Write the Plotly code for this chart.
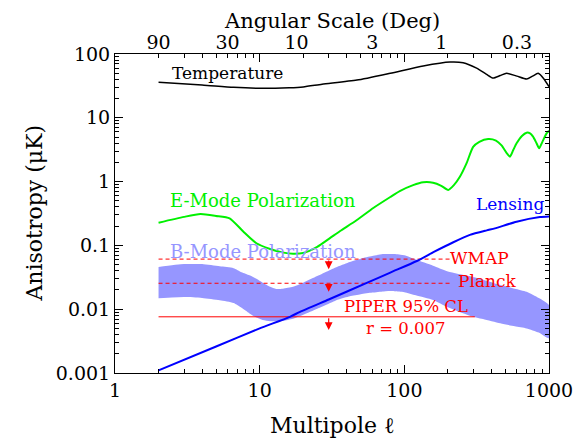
import numpy as np
import plotly.graph_objects as go

# ---------------- data ----------------
ell_T = [2, 4, 6.6, 10, 16, 20, 27, 47, 80, 135, 207, 255, 316, 370, 410, 460, 509, 600, 700, 770, 842, 920, 1000]
temp = [36, 32.7, 30, 29, 29.6, 30.5, 33.5, 39, 50, 65, 75, 73, 60, 48, 42, 46, 50, 45, 40.5, 45, 49.8, 41, 30.7]

ell_E = [2, 3, 3.9, 5, 6.2, 7.7, 9.5, 11.8, 14.6, 17, 20, 25, 30.6, 36, 47, 61, 80, 93, 115, 135, 158, 180,
         201, 220, 242, 269, 299, 330, 380, 430, 470, 510, 537, 565, 597, 650, 700, 740, 776, 820, 855, 900, 962, 1000]
EE = [0.227, 0.28, 0.31, 0.29, 0.266, 0.165, 0.108, 0.088, 0.077, 0.074, 0.076, 0.095, 0.13, 0.168, 0.25, 0.386,
      0.574, 0.71, 0.88, 0.975, 0.96, 0.86, 0.74, 0.88, 1.19, 1.93, 3.5, 4.2, 4.65, 4.4, 3.7, 2.8, 2.46, 3.1,
      3.98, 5.2, 5.84, 5.7, 5.06, 4.0, 3.33, 4.2, 5.7, 6.27]

ell_L = [2, 5, 10, 16.2, 19, 30, 55, 80, 122, 160, 218, 284, 371, 423, 597, 865, 1000]
LL = [0.0011, 0.0026, 0.005, 0.0076, 0.0091, 0.0142, 0.0258, 0.0375, 0.057, 0.079, 0.112, 0.146, 0.172, 0.185,
      0.235, 0.278, 0.285]

ell_B = [2, 3, 4, 5.3, 6.6, 7.5, 8.5, 9.5, 10.5, 11.8, 13, 14.5, 17, 20, 25, 30, 35, 42, 50, 60, 72, 85, 100,
         120, 158, 200, 280, 350, 460, 580, 700, 850, 1000]
B_up = [0.046, 0.051, 0.051, 0.047, 0.044, 0.038, 0.034, 0.030, 0.026, 0.0225, 0.0208, 0.021, 0.0225, 0.026,
        0.033, 0.040, 0.047, 0.055, 0.062, 0.068, 0.073, 0.0735, 0.070, 0.060, 0.048, 0.039, 0.033, 0.029, 0.024,
        0.021, 0.0188, 0.015, 0.0116]
B_lo = [0.0148, 0.0155, 0.0150, 0.0138, 0.0125, 0.0105, 0.0086, 0.0074, 0.0068, 0.0065, 0.0065, 0.0066, 0.0071,
        0.0082, 0.0102, 0.0122, 0.0142, 0.016, 0.0172, 0.0182, 0.019, 0.0192, 0.0185, 0.0165, 0.0139, 0.0107,
        0.0080, 0.0070, 0.0060, 0.0054, 0.0050, 0.0043, 0.0035]

# limits: name, value, line end multipole, arrow tip value
lim_names = ["WMAP", "Planck", "PIPER"]
lim_vals = [0.061, 0.0255, 0.0076]
lim_l0 = [2, 2, 2]
lim_l1 = [207, 207, 307]
arrow_l = 30
arrow_tips = [0.0424, 0.0188, 0.0047]

x_ticks = [1, 10, 100, 1000]
x_ticktext = ["1", "10", "100", "1000"]
y_ticks = [0.001, 0.01, 0.1, 1, 10, 100]
y_ticktext = ["0.001", "0.01", "0.1", "1", "10", "100"]
ang_deg = [90, 30, 10, 3, 1, 0.3]
ang_text = ["90", "30", "10", "3", "1", "0.3"]

FONT = "DejaVu Serif"
RED = "#ff0000"
GREEN = "#00f000"

fig = go.Figure()

# B-mode band
fig.add_trace(go.Scatter(x=ell_B + ell_B[::-1], y=B_up + B_lo[::-1], fill="toself",
                         fillcolor="rgb(150,150,255)", line=dict(width=0, shape="spline", smoothing=0.6),
                         mode="lines", hoverinfo="skip"))

# limit lines
for i, name in enumerate(lim_names):
    fig.add_trace(go.Scatter(x=[lim_l0[i], lim_l1[i]], y=[lim_vals[i], lim_vals[i]], mode="lines",
                             line=dict(color=RED, width=1, dash="solid" if name == "PIPER" else "4px,3px"),
                             hoverinfo="skip"))

fig.add_trace(go.Scatter(x=ell_T, y=temp, mode="lines",
                         line=dict(color="black", width=1.5, shape="spline", smoothing=0.6)))
fig.add_trace(go.Scatter(x=ell_E, y=EE, mode="lines",
                         line=dict(color=GREEN, width=2, shape="spline", smoothing=0.6)))
fig.add_trace(go.Scatter(x=ell_L, y=LL, mode="lines",
                         line=dict(color="#0000ff", width=2, shape="spline", smoothing=0.6)))

# dummy for top axis
fig.add_trace(go.Scatter(x=[1, 1000], y=[1, 1], xaxis="x2", mode="lines", line=dict(width=0),
                         opacity=0, hoverinfo="skip"))

# arrows
for tail, tip in zip(lim_vals, arrow_tips):
    fig.add_annotation(x=np.log10(arrow_l), y=np.log10(tip), ax=np.log10(arrow_l), ay=np.log10(tail),
                       xref="x", yref="y", axref="x", ayref="y", text="", showarrow=True,
                       arrowhead=2, arrowsize=1.3, arrowwidth=1.2, arrowcolor=RED, standoff=0,
                       startstandoff=0)

# text labels
labels = [
    ("Temperature", 6.0, 49.8, "black", 17),
    ("E-Mode Polarization", 10.5, 0.497, GREEN, 18),
    ("B-Mode Polarization", 10.5, 0.0817, "rgb(150,150,255)", 18),
    ("Lensing", 537, 0.438, "#0000ff", 17),
    ("WMAP", 329, 0.0628, RED, 17),
    ("Planck", 371, 0.0272, RED, 17),
    ("PIPER 95% CL", 102, 0.0109, RED, 16.5),
    ("r = 0.007", 102, 0.0049, RED, 16.5),
]
for t, lx, ly, c, s in labels:
    fig.add_annotation(x=np.log10(lx), y=np.log10(ly), xref="x", yref="y", text=t, showarrow=False,
                       font=dict(family=FONT, size=s, color=c), xanchor="center", yanchor="middle")

# axis titles
fig.add_annotation(x=0.5, y=1.144, xref="paper", yref="paper", text="Angular Scale (Deg)", showarrow=False,
                   font=dict(family=FONT, size=21, color="black"), yanchor="top", borderpad=0)
fig.add_annotation(x=0.5, y=-0.166, xref="paper", yref="paper", text="Multipole \u2113", showarrow=False,
                   font=dict(family=FONT, size=22, color="black"), yanchor="middle")
fig.add_annotation(x=-0.1866, y=0.5, xref="paper", yref="paper", text="Anisotropy (\u03bcK)", showarrow=False,
                   textangle=-90, font=dict(family=FONT, size=22, color="black"), xanchor="center",
                   yanchor="middle")

minor_x = [m * d for d in [1, 10, 100] for m in range(2, 10)]
minor_y = [m * d for d in [0.001, 0.01, 0.1, 1, 10] for m in range(2, 10)]

axis_common = dict(type="log", showline=True, linecolor="black", linewidth=1, mirror="ticks",
                   ticks="inside", ticklen=8, tickwidth=1, tickcolor="black", showgrid=False,
                   zeroline=False, tickfont=dict(family=FONT, size=19, color="black"))

# page body has an 8px default margin: size and margins compensate for it
fig.update_layout(
    width=578, height=430, margin=dict(l=107, r=37, t=46, b=65),
    paper_bgcolor="white", plot_bgcolor="white", showlegend=False,
    font=dict(family=FONT, size=19, color="black"),
    xaxis=dict(range=[0, 3], tickvals=x_ticks, ticktext=x_ticktext,
               minor=dict(tickmode="array", tickvals=minor_x, ticks="inside", ticklen=4, tickcolor="black"),
               **axis_common),
    yaxis=dict(range=[-3, 2], tickvals=y_ticks, ticktext=y_ticktext,
               minor=dict(tickmode="array", tickvals=minor_y, ticks="inside", ticklen=4, tickcolor="black"),
               **axis_common),
    xaxis2=dict(type="log", range=[0, 3], overlaying="x", side="top", anchor="y",
                tickvals=[180.0 / a for a in ang_deg], ticktext=ang_text, ticks="", showline=False,
                showgrid=False, zeroline=False, tickfont=dict(family=FONT, size=19, color="black")),
)

fig.write_html("out.html")
